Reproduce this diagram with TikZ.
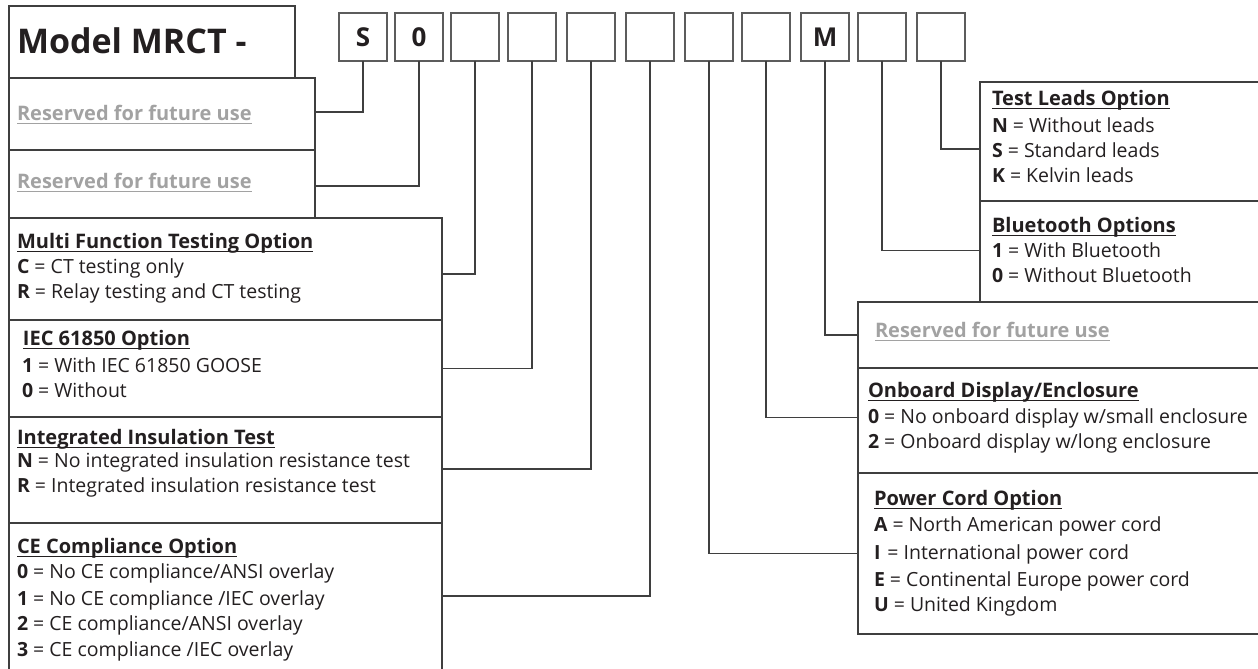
\documentclass[tikz,border=0pt]{standalone}
\usepackage{fontspec}
\setmainfont{Open Sans}
\usetikzlibrary{positioning}

\definecolor{inkdark}{HTML}{231F20}
\definecolor{framegray}{HTML}{3F3F3F}
\definecolor{resgray}{HTML}{A2A2A2}

% underline that runs through the descenders
\newcommand{\hdline}[1]{\leavevmode\setbox0\hbox{#1}\rlap{\vrule height -2.6pt depth 3.9pt width \wd0}\box0}
\newcommand{\hdfont}{\bfseries\fontsize{20}{20}\selectfont}

\begin{document}
\begin{tikzpicture}[x=1pt,y=-1pt,
  panel/.style={draw=framegray,line width=1.4pt,rectangle,inner sep=0pt,outer sep=0pt,anchor=north west},
  codebox/.style={draw=framegray!85,line width=1.4pt,rectangle,minimum width=48pt,minimum height=48pt,
    inner sep=0pt,outer sep=0pt,font=\bfseries\fontsize{26}{26}\selectfont,text=inkdark},
  label/.style={anchor=base west,inner sep=0pt,outer sep=0pt,text=inkdark,font=\fontsize{19.5}{19.5}\selectfont},
  reserved/.style={label,text=resgray,font=\hdfont},
  lead/.style={draw=framegray,line width=1.2pt}]

  \useasboundingbox (0,0) rectangle (1258,669);
  \clip (0,0) rectangle (1258,669);

  % left column
  \node[panel,minimum width=286pt,minimum height=72pt] (title) at (9,6) {};
  \node[panel,minimum width=306pt,minimum height=72pt] (res1) at (9,78) {};
  \node[panel,minimum width=306pt,minimum height=68pt] (res2) at (9,150) {};
  \node[panel,minimum width=433pt,minimum height=102pt] (multi) at (9,218) {};
  \node[panel,minimum width=433pt,minimum height=97pt] (iec) at (9,320) {};
  \node[panel,minimum width=433pt,minimum height=106pt] (insul) at (9,417) {};
  \node[panel,minimum width=433pt,minimum height=152pt] (ce) at (9,523) {};

  % right column
  \node[panel,minimum width=290pt,minimum height=119pt] (leads) at (980,82) {};
  \node[panel,minimum width=290pt,minimum height=101pt] (blue) at (980,201) {};
  \node[panel,minimum width=410pt,minimum height=66pt] (res3) at (858,302) {};
  \node[panel,minimum width=410pt,minimum height=105pt] (disp) at (858,368) {};
  \node[panel,minimum width=410pt,minimum height=161pt] (cord) at (858,473) {};

  % model code boxes
  \foreach \cx/\ch [count=\i] in {363/S,419/0,475/{},532/{},591/{},650/{},709/{},766/{},825/M,882/{},941/{}}
    \node[codebox] (c\i) at (\cx,37) {\ch};

  % texts
  \node[label,font=\bfseries\fontsize{34}{34}\selectfont] (title-t) at (17,53) {Model MRCT -};
  \node[reserved] (res1-t) at (17,120) {\hdline{Reserved for future use}};
  \node[reserved] (res2-t) at (17,188) {\hdline{Reserved for future use}};

  \node[label] (multi-h) at (17,248) {\hdline{\hdfont Multi Function Testing Option}};
  \node[label] (multi-1) at (17,273) {\textbf{C} = CT testing only};
  \node[label] (multi-2) at (17,298) {\textbf{R} = Relay testing and CT testing};

  \node[label] (iec-h) at (23,345) {\hdline{\hdfont IEC 61850 Option}};
  \node[label] (iec-1) at (22,372) {\textbf{1} = With IEC 61850 GOOSE};
  \node[label] (iec-2) at (22,397) {\textbf{0} = Without};

  \node[label] (insul-h) at (17,444) {\hdline{\hdfont Integrated Insulation Test}};
  \node[label] (insul-1) at (17,467) {\textbf{N} = No integrated insulation resistance test};
  \node[label] (insul-2) at (17,492) {\textbf{R} = Integrated insulation resistance test};

  \node[label] (ce-h) at (17,553) {\hdline{\hdfont CE Compliance Option}};
  \node[label] (ce-1) at (17,578) {\textbf{0} = No CE compliance/ANSI overlay};
  \node[label] (ce-2) at (17,605) {\textbf{1} = No CE compliance /IEC overlay};
  \node[label] (ce-3) at (17,630) {\textbf{2} = CE compliance/ANSI overlay};
  \node[label] (ce-4) at (17,656) {\textbf{3} = CE compliance /IEC overlay};

  \node[label] (leads-h) at (992,105) {\hdline{\hdfont Test Leads Option}};
  \node[label] (leads-1) at (992,132) {\textbf{N} = Without leads};
  \node[label] (leads-2) at (992,157) {\textbf{S} = Standard leads};
  \node[label] (leads-3) at (992,182) {\textbf{K} = Kelvin leads};

  \node[label] (blue-h) at (992,232) {\hdline{\hdfont Bluetooth Options}};
  \node[label] (blue-1) at (992,257) {\textbf{1} = With Bluetooth};
  \node[label] (blue-2) at (992,282) {\textbf{0} = Without Bluetooth};

  \node[reserved] (res3-t) at (875,337) {\hdline{Reserved for future use}};

  \node[label] (disp-h) at (868,397) {\hdline{\hdfont Onboard Display/Enclosure}};
  \node[label] (disp-1) at (868,423) {\textbf{0} = No onboard display w/small enclosure};
  \node[label] (disp-2) at (868,448) {\textbf{2} = Onboard display w/long enclosure};

  \node[label] (cord-h) at (874,505) {\hdline{\hdfont Power Cord Option}};
  \node[label] (cord-1) at (874,531) {\textbf{A} = North American power cord};
  \node[label] (cord-2) at (874,559) {\textbf{I}\hspace{7pt}= International power cord};
  \node[label] (cord-3) at (874,586) {\textbf{E} = Continental Europe power cord};
  \node[label] (cord-4) at (874,611) {\textbf{U} = United Kingdom};

  % leaders from code boxes to panels
  \draw[lead] (c1.south) |- ([yshift=2pt]res1.east);
  \draw[lead] (c2.south) |- ([yshift=-2pt]res2.east);
  \draw[lead] (c3.south) |- ([yshift=-5pt]multi.east);
  \draw[lead] (c4.south) |- (iec.east);
  \draw[lead] (c5.south) |- ([yshift=1pt]insul.east);
  \draw[lead] (c6.south) |- ([yshift=3pt]ce.east);
  \draw[lead] (c7.south) |- (cord.west);
  \draw[lead] (c8.south) |- ([yshift=3pt]disp.west);
  \draw[lead] (c9.south) |- (res3.west);
  \draw[lead] (c10.south) |- ([yshift=1pt]blue.west);
  \draw[lead] (c11.south) |- ([yshift=-7.5pt]leads.west);
\end{tikzpicture}
\end{document}
